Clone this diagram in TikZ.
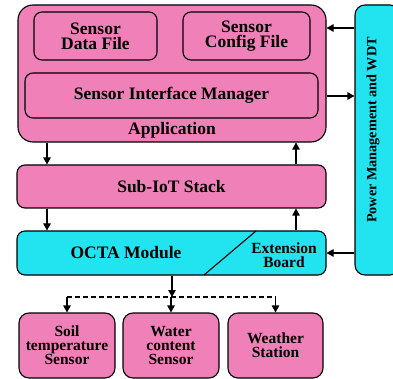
\documentclass[tikz,border=0pt]{standalone}
\usepackage{fontspec}
\setmainfont{Liberation Serif}
\usetikzlibrary{arrows.meta}
\definecolor{boxpink}{RGB}{240,128,184}
\definecolor{boxcyan}{RGB}{34,228,240}
\newcommand{\lblbig}{\fontsize{17.5}{15}\selectfont\bfseries}
\newcommand{\lblsmall}{\fontsize{15.5}{14}\selectfont\bfseries}
\newcommand{\lblpwr}{\fontsize{14.2}{14}\selectfont\bfseries}
\begin{document}
\begin{tikzpicture}[x=1pt,y=-1pt,
  blk/.style={draw=black, line width=1.1pt, rounded corners=8pt, inner sep=0pt, align=center},
  pinkblk/.style={blk, fill=boxpink, font=\lblbig},
  cyanblk/.style={blk, fill=boxcyan, font=\lblbig},
  sensblk/.style={blk, fill=boxpink, font=\lblsmall, rounded corners=10pt, minimum width=96pt, minimum height=65pt},
  arr/.style={-{Triangle[length=7pt,width=7.5pt]}, line width=1.1pt},
  bus/.style={line width=1.1pt, dash pattern=on 5pt off 3pt}]
\useasboundingbox (0,0) rectangle (393,379);

% Application layer and its parts
\node[pinkblk, rounded corners=15pt, minimum width=308pt, minimum height=137pt] (app) at (172,73.5) {};
\node[pinkblk, minimum width=123pt, minimum height=48pt] (sdf) at (95.5,36) {Sensor\\Data File};
\node[pinkblk, minimum width=127pt, minimum height=48pt] (scf) at (246.5,36) {Sensor\\Config File};
\node[pinkblk, minimum width=293pt, minimum height=45pt] (sim) at (171.5,95.5) {Sensor Interface Manager};
\node[font=\lblbig, anchor=base, inner sep=0pt] (applbl) at (172,135) {Application};

% Network stack
\node[pinkblk, minimum width=309pt, minimum height=43pt] (sub) at (171.5,186.5) {Sub-IoT Stack};

% Hardware module with extension board
\node[cyanblk, minimum width=309pt, minimum height=44pt] (octa) at (171.5,253) {};
\coordinate (dtop) at (256,231);
\coordinate (dbot) at (204,275);
\draw[line width=1.1pt] (dtop) -- (dbot);
\node[font=\lblbig, inner sep=0pt] (octalbl) at (126,253) {OCTA Module};
\node[font=\lblsmall, align=center, inner sep=0pt] (extlbl) at (284,255) {Extension\\Board};

% Power management column
\node[cyanblk, rounded corners=10pt, minimum width=45pt, minimum height=270pt] (pwr) at (377.5,140) {};
\node[font=\lblpwr, rotate=90, inner sep=0pt] (pwrlbl) at (373,130) {Power Management and WDT};

% Sensors
\node[sensblk] (soil) at (67,345.5) {Soil\\temperature\\Sensor};
\node[sensblk] (water) at (171,345.5) {Water\\content\\Sensor};
\node[sensblk, minimum width=95pt] (wthr) at (275.5,345.5) {Weather\\Station};

% Vertical links between layers
\coordinate (lx) at (47,0);
\coordinate (rx) at (296,0);
\draw[arr] (app.south -| lx) -- (sub.north -| lx);
\draw[arr] (sub.north -| rx) -- (app.south -| rx);
\draw[arr] (sub.south -| lx) -- (octa.north -| lx);
\draw[arr] (octa.north -| rx) -- (sub.south -| rx);

% Links to and from power management
\coordinate (ya) at (0,28);
\coordinate (yb) at (0,96);
\coordinate (yc) at (0,253);
\draw[arr] (pwr.west |- ya) -- (app.east |- ya);
\draw[arr] (app.east |- yb) -- (pwr.west |- yb);
\draw[arr] (pwr.west |- yc) -- (octa.east |- yc);

% Sensor bus
\coordinate (bus) at (172,297);
\draw[arr] (octa.south -| bus) -- (bus);
\draw[bus] (soil.north |- bus) -- (wthr.north |- bus);
\draw[arr] (soil.north |- bus) -- (soil.north);
\draw[arr] (water.north |- bus) -- (water.north);
\draw[arr] (wthr.north |- bus) -- (wthr.north);
\end{tikzpicture}
\end{document}
